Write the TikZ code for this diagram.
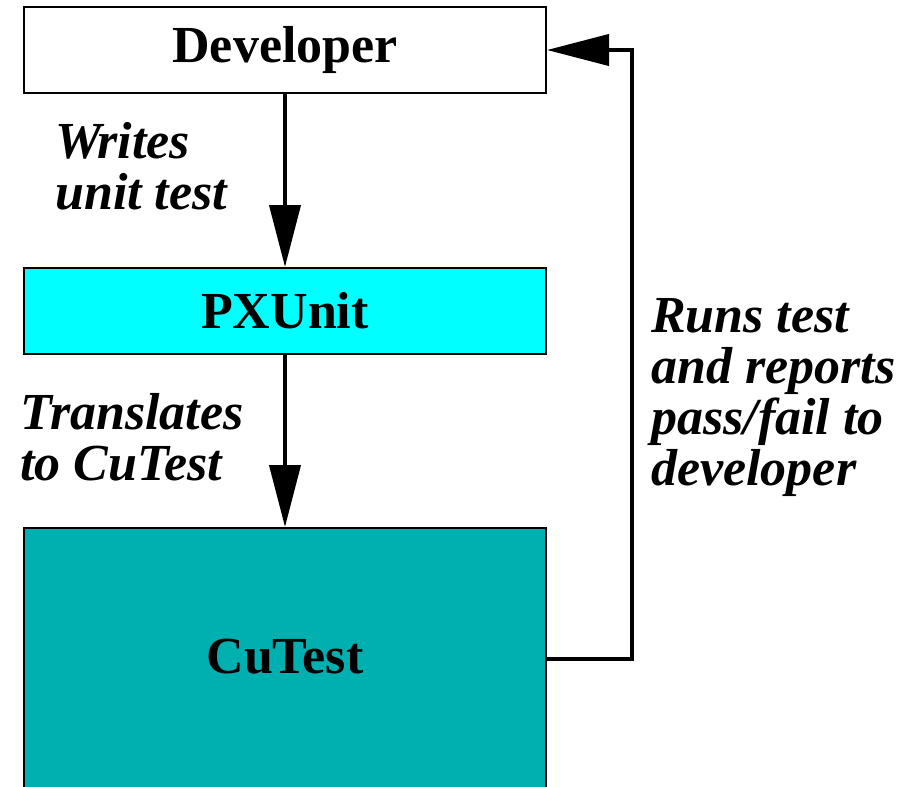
\documentclass[tikz,border=0pt]{standalone}
\usepackage{fontspec}
\setmainfont{Liberation Serif}
\usetikzlibrary{arrows.meta}
\definecolor{pxcyan}{RGB}{0,255,255}
\definecolor{cuteal}{RGB}{0,176,176}

\begin{document}
\begin{tikzpicture}[x=1pt,y=-1pt]
            \tikzstyle{box}=[draw=black, line width=2pt, minimum width=522pt, inner sep=0pt,
                             font=\fontsize{52}{50}\selectfont\bfseries]
            \tikzstyle{note}=[align=left, inner sep=0pt, anchor=north west,
                              font=\fontsize{52}{51}\selectfont\bfseries\itshape]
            \tikzstyle{flow}=[draw=black, line width=4pt, line join=miter,
                              -{Triangle[length=62pt,width=31pt]}]
            \useasboundingbox (0,0) rectangle (913,787);
            \node [box, minimum height=86pt] (dev) at (285,50) {Developer};
            \node [box, fill=pxcyan, minimum height=86pt] (pxu) at (285,311) {PXUnit};
            \node [box, fill=cuteal, minimum height=272pt] (cut) at (285,664) {\raisebox{16pt}{CuTest}};
            \coordinate (turn) at (632,50);
            \draw [flow] (dev) -- (pxu);
            \draw [flow] (pxu) -- (cut);
            \draw [flow] ([yshift=5pt]cut.east) -| (turn) -- (dev.east);
            \node [note] (writes) at (55,122) {Writes\\unit test};
            \node [note] (transl) at (20,393) {Translates\\to CuTest};
            \node [note] (runs) at (651,298) {Runs test\\and reports\\pass/fail to\\developer};
\end{tikzpicture}
\end{document}
